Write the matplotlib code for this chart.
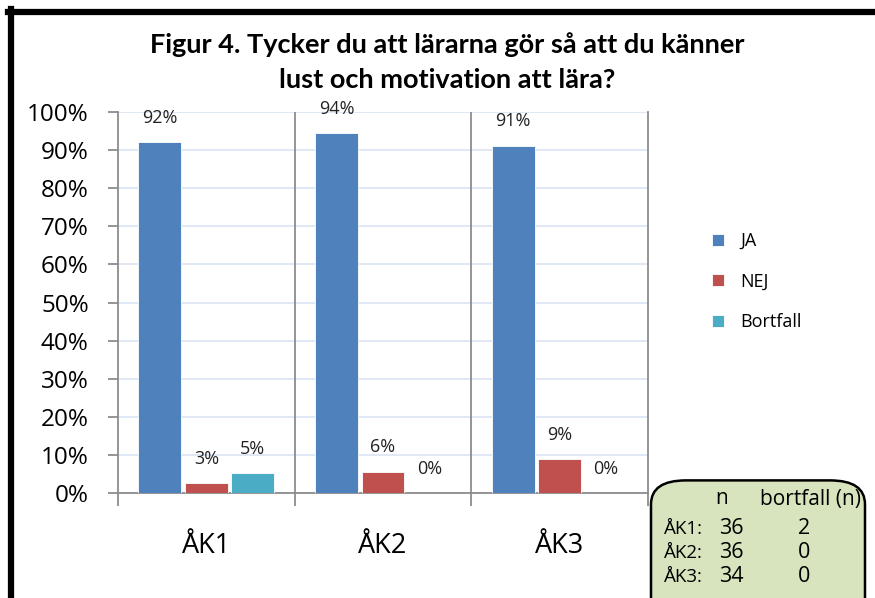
import matplotlib.pyplot as plt
from matplotlib.patches import FancyBboxPatch
from matplotlib.lines import Line2D
import numpy as np

# data
groups = ['ÅK1', 'ÅK2', 'ÅK3']
series = ['JA', 'NEJ', 'Bortfall']
ja = [92.1, 94.4, 91.2]
nej = [2.6, 5.6, 8.8]
bortfall = [5.3, 0.0, 0.0]
n_vals = [36, 36, 34]
bortfall_n = [2, 0, 0]
colors = ['#4f81bd', '#c0504d', '#4bacc6']

W, H = 875, 598
fig = plt.figure(figsize=(W / 100, H / 100), dpi=100)
fig.patch.set_facecolor('white')

body = 'Open Sans'
title_font = ['Lato', 'DejaVu Sans']

# frame lines around the chart (left and top)
fig.add_artist(Line2D([10.5 / W, 10.5 / W], [0, 1 - 9 / H], color='black', lw=4.5))
fig.add_artist(Line2D([8 / W, 1], [1 - 12 / H, 1 - 12 / H], color='black', lw=4.5))

fig.text(447 / W, 1 - 45 / H, 'Figur 4. Tycker du att lärarna gör så att du känner',
         ha='center', va='center', fontsize=19.5, fontweight='bold', family=title_font)
fig.text(447 / W, 1 - 80 / H, 'lust och motivation att lära?',
         ha='center', va='center', fontsize=19.5, fontweight='bold', family=title_font)

ax = fig.add_axes([118 / W, (H - 493) / H, 530 / W, 381 / H])
x = np.arange(len(groups))
step = 0.263
bw = 0.243
for i, (name, vals) in enumerate(zip(series, [ja, nej, bortfall])):
    pos = x + (i - 1) * step
    ax.bar(pos, vals, width=bw, color=colors[i], edgecolor='white',
           linewidth=0.6, label=name, zorder=3)
    for p, v in zip(pos, vals):
        ax.text(p, v + 4.0, f'{v:.0f}%', ha='center', va='bottom',
                fontsize=13, family=body, color='#222222')

ax.set_xlim(-0.5, 2.5)
ax.set_ylim(0, 100)
ax.set_yticks(np.arange(0, 101, 10))
ax.set_yticklabels([f'{t}%' for t in range(0, 101, 10)], fontsize=17.5, family=body)
ax.yaxis.grid(True, color='#dbe4f3', lw=1.2, zorder=0)
for b in [0.5, 1.5]:
    ax.axvline(b, color='#8c8c8c', lw=1.3, zorder=2)

ax.set_xticks([-0.5, 0.5, 1.5, 2.5])
ax.set_xticklabels([])
ax.set_xticks(x, minor=True)
ax.set_xticklabels(groups, minor=True, fontsize=19.5, family=body)
ax.tick_params(axis='x', which='major', length=9, color='#8c8c8c', width=1.3)
ax.tick_params(axis='x', which='minor', length=0, pad=28)
ax.tick_params(axis='y', length=7, color='#8c8c8c', width=1.3, pad=14)

ax.spines['top'].set_visible(False)
for s in ['left', 'bottom', 'right']:
    ax.spines[s].set_color('#8c8c8c')
    ax.spines[s].set_linewidth(1.3)

ax.legend(loc='center left', bbox_to_anchor=(1.09, 0.555), frameon=False,
          prop={'family': body, 'size': 13}, handlelength=0.65, handleheight=0.65,
          labelspacing=1.25, handletextpad=0.9)

# info box
box = FancyBboxPatch((651 / W, -0.06), 214 / W, (H - 478) / H + 0.06 - 0.004,
                     boxstyle='round,pad=0,rounding_size=0.04', transform=fig.transFigure,
                     facecolor='#d7e4bd', edgecolor='black', lw=1.8, zorder=5)
fig.add_artist(box)
fig.text(722 / W, 1 - 499 / H, 'n', ha='center', va='center', fontsize=15, family=body, zorder=6)
fig.text(810 / W, 1 - 499 / H, 'bortfall (n)', ha='center', va='center', fontsize=15, family=body, zorder=6)
for k, (g, nv, bn) in enumerate(zip(groups, n_vals, bortfall_n)):
    yy = 1 - (529 + k * 24) / H
    fig.text(664 / W, yy, g + ':', ha='left', va='center', fontsize=13.5, family=body, zorder=6)
    fig.text(731 / W, yy, str(nv), ha='center', va='center', fontsize=15.5, family=body, zorder=6)
    fig.text(804 / W, yy, str(bn), ha='center', va='center', fontsize=15.5, family=body, zorder=6)

fig.savefig('out.png', dpi=100)
